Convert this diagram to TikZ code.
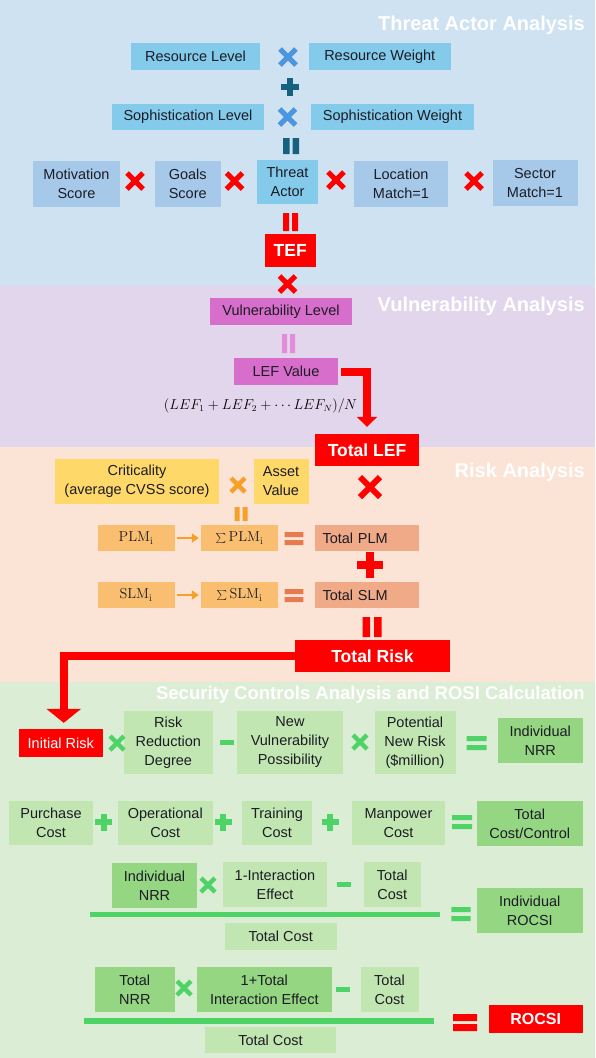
\documentclass[tikz,border=0pt]{standalone}
\usepackage[no-math]{fontspec}
\setmainfont{Liberation Sans}
\usetikzlibrary{arrows.meta}

\definecolor{bandblue}{RGB}{206,226,242}
\definecolor{bandpurple}{RGB}{226,214,236}
\definecolor{bandpeach}{RGB}{251,227,214}
\definecolor{bandgreen}{RGB}{219,237,213}
\definecolor{boxblueA}{RGB}{131,202,235}
\definecolor{boxblueB}{RGB}{166,201,234}
\definecolor{opblue}{RGB}{75,150,222}
\definecolor{opteal}{RGB}{22,96,128}
\definecolor{mred}{RGB}{255,0,0}
\definecolor{boxmag}{RGB}{216,110,204}
\definecolor{oppink}{RGB}{226,140,218}
\definecolor{boxyel}{RGB}{255,216,106}
\definecolor{boxorg}{RGB}{249,190,112}
\definecolor{oporange}{RGB}{246,160,40}
\definecolor{opsalmon}{RGB}{232,122,80}
\definecolor{boxsalmon}{RGB}{240,170,136}
\definecolor{boxgrnA}{RGB}{193,230,178}
\definecolor{boxgrnB}{RGB}{148,214,130}
\definecolor{opgreen}{RGB}{78,212,102}
\definecolor{txtdark}{RGB}{28,28,36}

\newcommand{\cellfont}{\fontsize{14.5}{19}\selectfont}
\newcommand{\titlefont}{\fontsize{20}{24}\selectfont\bfseries}
\newcommand{\redfont}{\fontsize{17.5}{21}\selectfont\bfseries}

\tikzset{
  cell/.style={inner sep=0pt, align=center, font=\cellfont, text=txtdark},
  sz/.style 2 args={minimum width=#1, minimum height=#2},
  redcell/.style={cell, fill=mred, text=white, font=\redfont},
  leftcell/.style={align=left, text width=88.6pt, inner xsep=7.5pt},
  sectitle/.style={anchor=east, inner sep=0pt, text=white, font=\titlefont},
  redarrow/.style={draw=mred, line width=8pt},
  orgarrow/.style={draw=oporange, line width=2.5pt, -{Triangle[width=9pt,length=7pt]}},
  pics/mul/.style args={#1/#2}{code={\draw[line width=#2] (-#1,-#1)--(#1,#1) (-#1,#1)--(#1,-#1);}},
  pics/add/.style args={#1/#2}{code={\draw[line width=#2] (-#1,0)--(#1,0) (0,-#1)--(0,#1);}},
  pics/sub/.style args={#1/#2}{code={\draw[line width=#2] (-#1,0)--(#1,0);}},
  pics/eqh/.style args={#1/#2/#3}{code={\fill (-#1,-#2) rectangle (#1,-#3) (-#1,#3) rectangle (#1,#2);}},
  pics/eqv/.style args={#1/#2/#3}{code={\fill (-#2,-#1) rectangle (-#3,#1) (#3,-#1) rectangle (#2,#1);}},
}

\begin{document}
\begin{tikzpicture}[x=1pt,y=-1pt]
  \useasboundingbox (0,0) rectangle (595,1058);
  % bands
  \fill[bandblue] (0,0) rectangle (595,286);
  \fill[bandpurple] (0,286) rectangle (595,447);
  \fill[bandpeach] (0,447) rectangle (595,682);
  \fill[bandgreen] (0,682) rectangle (595,1058);

  % threat actor analysis
  \node[sectitle] (titlethreat) at (585,25) {Threat Actor Analysis};
  \node[cell, fill=boxblueA, sz={129}{27}] (reslvl) at (195.5,56.5) {Resource Level};
  \node[cell, fill=boxblueA, sz={142.5}{27}] (reswt) at (379.75,56.5) {Resource Weight};
  \node[cell, fill=boxblueA, sz={152}{26}] (sophlvl) at (188,117) {Sophistication Level};
  \node[cell, fill=boxblueA, sz={163}{26}] (sophwt) at (392.5,117) {Sophistication Weight};
  \node[cell, fill=boxblueB, sz={87}{46}] (motiv) at (76.5,184) {Motivation\\Score};
  \node[cell, fill=boxblueB, sz={66.5}{46}] (goals) at (187.75,184) {Goals\\Score};
  \node[cell, fill=boxblueA, sz={61}{44}] (actor) at (287.5,182) {Threat\\Actor};
  \node[cell, fill=boxblueB, sz={94}{46}] (locat) at (401,184) {Location\\Match=1};
  \node[cell, fill=boxblueB, sz={85}{46}] (sector) at (535,183) {Sector\\Match=1};
  \node[redcell, sz={51.5}{33}] (tef) at (290.25,250.5) {TEF};
  \pic[opblue] at (288,57) {mul=8/5pt};
  \pic[opteal] at (290,87) {add=9/5.5pt};
  \pic[opblue] at (287.5,117) {mul=8/5pt};
  \pic[opteal] at (291,146) {eqv=8/8/1.5};
  \pic[mred] at (135,181) {mul=8/5pt};
  \pic[mred] at (234.5,181) {mul=8/5pt};
  \pic[mred] at (336,180) {mul=8/5pt};
  \pic[mred] at (474,181) {mul=8/5pt};
  \pic[mred] at (290.5,222) {eqv=9/7.5/1.5};
  \pic[mred] at (287.5,284) {mul=8/5pt};

  % vulnerability analysis
  \node[sectitle] (titlevuln) at (585,306) {Vulnerability Analysis};
  \node[cell, fill=boxmag, sz={142}{27}] (vuln) at (281,311.5) {Vulnerability Level};
  \pic[oppink] at (288.5,343.5) {eqv=9.5/6.5/1.5};
  \node[cell, fill=boxmag, sz={104}{27}] (lef) at (286,371.5) {LEF Value};
  \node[inner sep=0pt, font=\fontsize{13.3}{16}\selectfont] (lefavg) at (260.5,406)
    {$(LEF_1+LEF_2+\cdots LEF_N)/N$};
  \node[redcell, sz={104}{32}] (totlef) at (367,450) {Total LEF};
  \draw[redarrow, -{Triangle[width=20pt,length=10pt]}] ([xshift=3pt]lef.east) -| ([yshift=7pt]totlef.north);

  % risk analysis
  \node[sectitle] (titlerisk) at (585,472) {Risk Analysis};
  \node[cell, fill=boxyel, sz={164}{45}] (crit) at (137,481.5) {Criticality\\(average CVSS score)};
  \node[cell, fill=boxyel, sz={55}{45}] (asset) at (281,481.5) {Asset\\Value};
  \pic[oporange] at (238,485) {mul=7/4.5pt};
  \pic[mred] at (370,487) {mul=10/6pt};
  \pic[oporange] at (241,514) {eqv=7/6.5/1.5};
  \node[cell, fill=boxorg, sz={77}{26}] (plm) at (136,538) {$\mathrm{PLM_i}$};
  \node[cell, fill=boxorg, sz={77}{26}] (sumplm) at (239.5,538) {$\sum\mathrm{PLM_i}$};
  \node[cell, leftcell, fill=boxsalmon, sz={103.6}{26}] (totplm) at (366.8,538) {Total PLM};
  \node[cell, fill=boxorg, sz={77}{26}] (slm) at (136,595) {$\mathrm{SLM_i}$};
  \node[cell, fill=boxorg, sz={77}{26}] (sumslm) at (239.5,595) {$\sum\mathrm{SLM_i}$};
  \node[cell, leftcell, fill=boxsalmon, sz={103.6}{26}] (totslm) at (366.8,595) {Total SLM};
  \draw[orgarrow] ([xshift=2pt]plm.east) -- ([xshift=-2pt]sumplm.west);
  \draw[orgarrow] ([xshift=2pt]slm.east) -- ([xshift=-2pt]sumslm.west);
  \pic[opsalmon] at (294,538.5) {eqh=9.3/6.5/1.5};
  \pic[opsalmon] at (294,595.5) {eqh=9.3/6.5/1.5};
  \pic[mred] at (370,565) {add=13/8pt};
  \pic[mred] at (372,627) {eqv=10/9.5/2};
  \node[redcell, sz={155}{32}] (totrisk) at (372.5,656) {Total Risk};

  % security controls and rosi
  \node[sectitle, font=\fontsize{18.5}{22}\selectfont\bfseries] (titlerosi) at (585,695)
    {Security Controls Analysis and ROSI Calculation};
  \node[cell, fill=mred, text=white, sz={83.5}{28}] (initrisk) at (60.75,743) {Initial Risk};
  \draw[redarrow, -{Triangle[width=34pt,length=14pt]}] (totrisk.west) -| ([xshift=3pt,yshift=6pt]initrisk.north);
  \node[cell, fill=boxgrnA, sz={88.5}{63}] (riskred) at (168.25,742.5) {Risk\\Reduction\\Degree};
  \node[cell, fill=boxgrnA, sz={106}{63}] (newvuln) at (290,742.5) {New\\Vulnerability\\Possibility};
  \node[cell, fill=boxgrnA, sz={81}{63}] (potrisk) at (415,742.5) {Potential\\New Risk\\(\$million)};
  \node[cell, fill=boxgrnB, sz={84.5}{45}] (indnrr) at (540.25,740.5) {Individual\\NRR};
  \pic[opgreen] at (117,743) {mul=7/4.5pt};
  \pic[opgreen] at (226.6,742) {sub=7/5pt};
  \pic[opgreen] at (360,742) {mul=7/4.5pt};
  \pic[opgreen] at (476.5,743) {eqh=10/7/2};

  \node[cell, fill=boxgrnA, sz={84}{44}] (purch) at (51,823) {Purchase\\Cost};
  \node[cell, fill=boxgrnA, sz={94.5}{44}] (oper) at (165.25,823) {Operational\\Cost};
  \node[cell, fill=boxgrnA, sz={70}{44}] (train) at (277,823) {Training\\Cost};
  \node[cell, fill=boxgrnA, sz={93}{44}] (manp) at (398.5,823) {Manpower\\Cost};
  \node[cell, fill=boxgrnB, sz={105.5}{45}] (totcc) at (529.75,823.5) {Total\\Cost/Control};
  \pic[opgreen] at (103.6,822) {add=8.5/6pt};
  \pic[opgreen] at (223,822) {add=8.5/6pt};
  \pic[opgreen] at (330,822) {add=8.5/6pt};
  \pic[opgreen] at (462,822) {eqh=10/7/2};

  \node[cell, fill=boxgrnB, sz={85}{45}] (indnrrb) at (154.5,885.5) {Individual\\NRR};
  \node[cell, fill=boxgrnA, sz={104}{45}] (interact) at (275,884.5) {1-Interaction\\Effect};
  \node[cell, fill=boxgrnA, sz={56.5}{45}] (costa) at (392.25,884.5) {Total\\Cost};
  \node[cell, fill=boxgrnA, sz={111.6}{27}] (costb) at (280.8,936.5) {Total Cost};
  \node[cell, fill=boxgrnB, sz={105.5}{45}] (indrocsi) at (529.75,910.5) {Individual\\ROCSI};
  \pic[opgreen] at (208,885) {mul=7/4.5pt};
  \pic[opgreen] at (343.5,884) {sub=7/5pt};
  \fill[opgreen] (90,912) rectangle (440,917);
  \pic[opgreen] at (461,914) {eqh=9.7/7/2};

  \node[cell, fill=boxgrnB, sz={79.6}{45}] (totnrr) at (134.8,989.5) {Total\\NRR};
  \node[cell, fill=boxgrnB, sz={135.4}{45}] (interactb) at (264.3,989.5) {1+Total\\Interaction Effect};
  \node[cell, fill=boxgrnA, sz={58}{45}] (costc) at (389.5,989.5) {Total\\Cost};
  \node[cell, fill=boxgrnA, sz={131}{26}] (costd) at (270.5,1040) {Total Cost};
  \node[cell, fill=mred, text=white, font=\fontsize{16}{19}\selectfont\bfseries, sz={93.5}{28}] (rocsi) at (535.75,1019) {ROCSI};
  \pic[opgreen] at (184,988) {mul=7/4.5pt};
  \pic[opgreen] at (342.7,989) {sub=7/5pt};
  \fill[opgreen] (83.5,1018) rectangle (434,1024);
  \pic[mred] at (465,1022.5) {eqh=12/8.5/1.5};
\end{tikzpicture}
\end{document}
